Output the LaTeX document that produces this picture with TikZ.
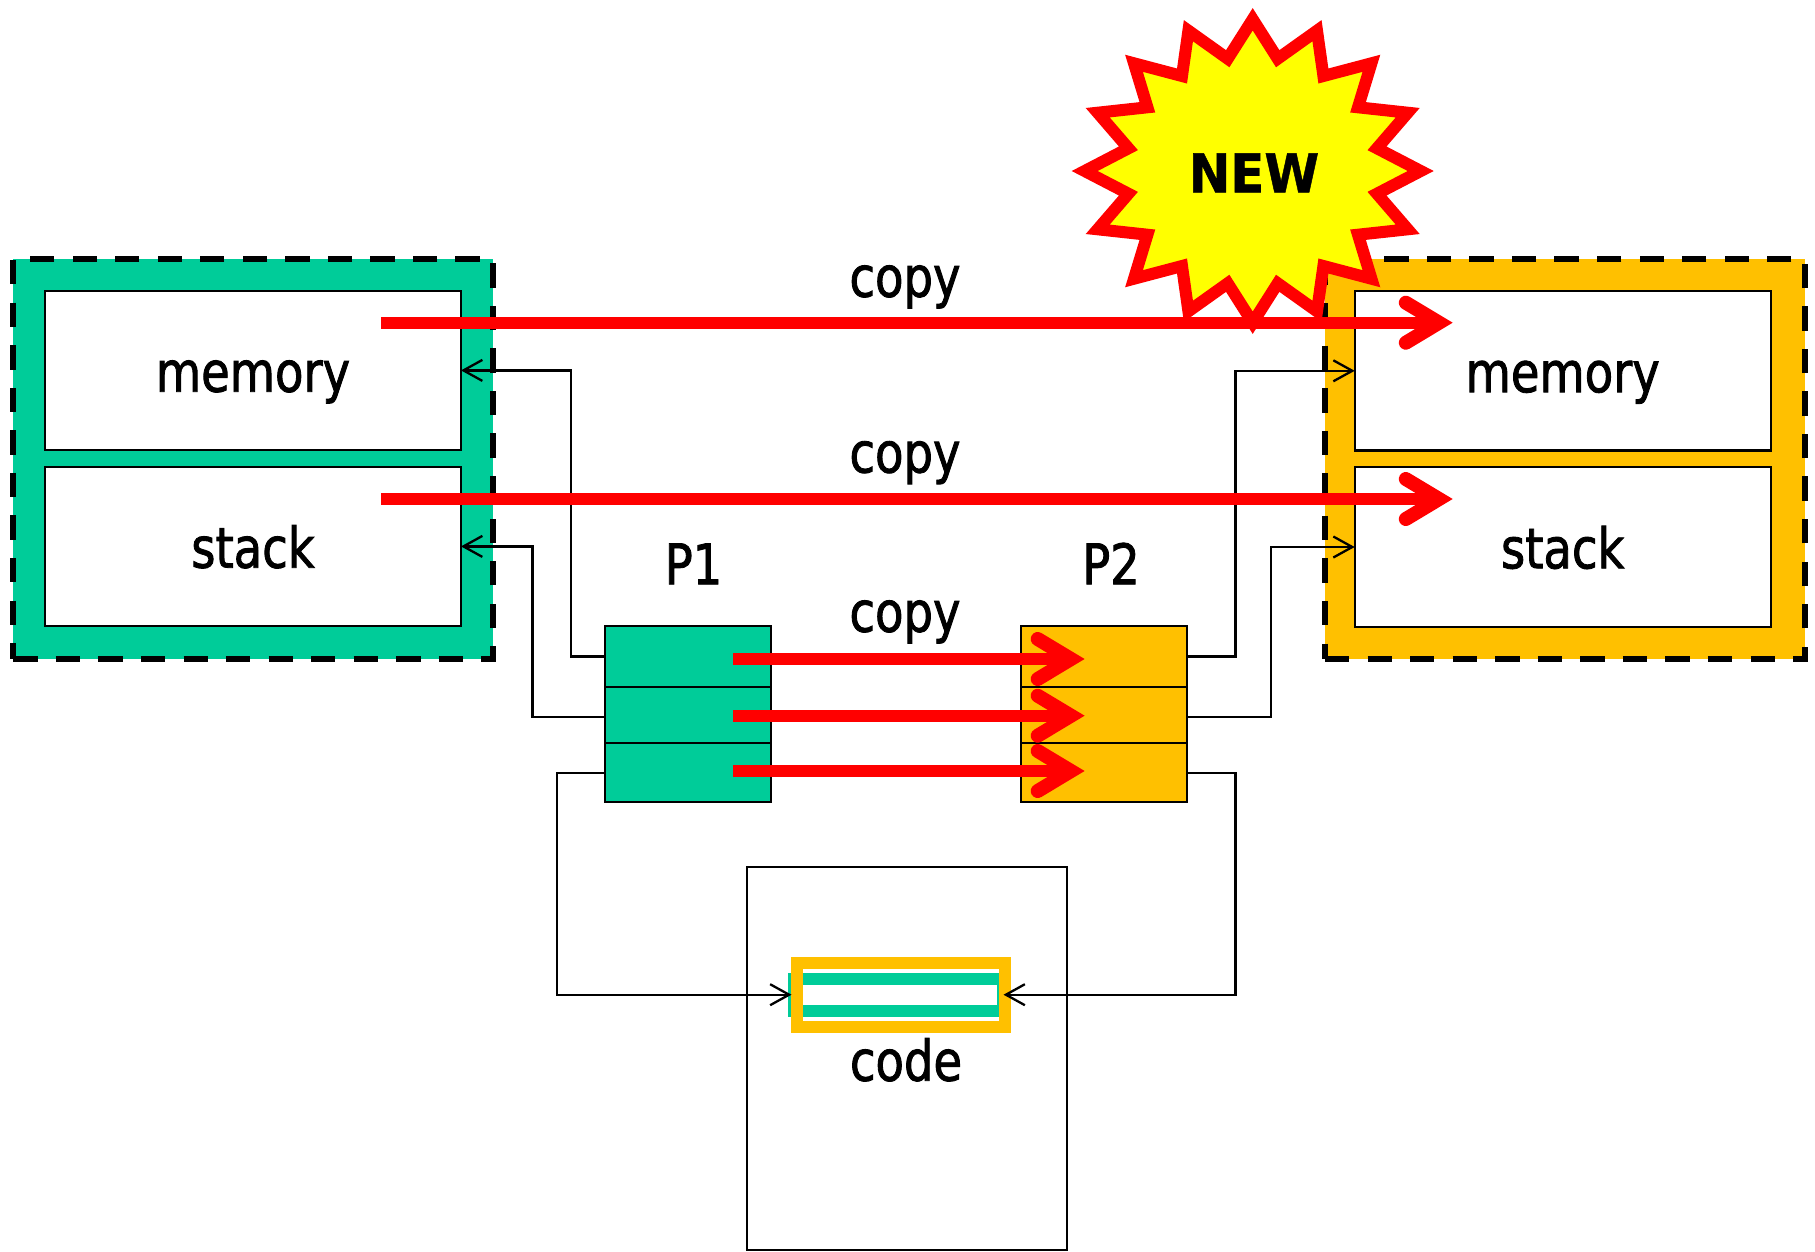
\documentclass[tikz,border=0pt]{standalone}
\usepackage{fontspec}
\setmainfont{DejaVu Sans}[FakeStretch=0.83,FakeBold=1.5]
\newfontfamily\burstfont{DejaVu Sans Bold}[FakeStretch=0.93,FakeBold=0.8]
\usetikzlibrary{arrows.meta}
\definecolor{grn}{HTML}{00CC99}
\definecolor{org}{HTML}{FFC000}
\definecolor{rd}{HTML}{FF0000}
\definecolor{yel}{HTML}{FFFF00}
\tikzset{
  x=1pt,y=-1pt,
  lbl/.style={inner sep=0pt,outer sep=0pt,font=\fontsize{56}{60}\selectfont,text height=42.6pt,text depth=0pt},
  freelbl/.style={inner sep=0pt,outer sep=0pt,anchor=base,font=\fontsize{56}{60}\selectfont},
  dashborder/.style={draw=black,line width=6pt,dash pattern=on 24.3pt off 18.25pt},
  inbox/.style={lbl,draw=black,line width=2.2pt,fill=white,minimum width=416pt,minimum height=159.4pt},
  row/.style={draw=black,line width=2.2pt,inner sep=0pt,outer sep=0pt,minimum width=166pt},
  conn/.style={draw=black,line width=2.3pt,-{Straight Barb[length=19pt,width=21pt,line width=2.3pt]}},
  bigarrow/.style={draw=rd,line width=12pt,-{Straight Barb[length=33.3pt,width=40pt,line width=14pt,line cap=round,line join=miter]}},
}
\begin{document}
\begin{tikzpicture}
\useasboundingbox (0,0) rectangle (1815,1251);
% left block
\fill[grn] (13.3,258.5) rectangle (493.3,658.5);
\node[inbox] (lmem) at (253,370.4) {memory};
\node[inbox] (lstk) at (253,546.4) {stack};
\draw[dashborder] (13.3,658.5) -- (493.3,658.5) -- (493.3,258.5) -- (13.3,258.5) -- cycle;
% right block
\fill[org] (1325,259) rectangle (1805,659);
\node[inbox] (rmem) at (1562.7,370.8) {memory};
\node[inbox] (rstk) at (1562.7,547) {stack};
\draw[dashborder] (1325,659) -- (1805,659) -- (1805,259) -- (1325,259) -- cycle;
% tables
\node[row,fill=grn,minimum height=60.7pt] (pa) at (688,656.4) {};
\node[row,fill=grn,minimum height=56pt] (pb) at (688,714.7) {};
\node[row,fill=grn,minimum height=59.6pt] (pc) at (688,772.5) {};
\node[row,fill=org,minimum height=60.7pt] (qa) at (1104,656.4) {};
\node[row,fill=org,minimum height=56pt] (qb) at (1104,714.7) {};
\node[row,fill=org,minimum height=59.6pt] (qc) at (1104,772.5) {};
\node[freelbl] (plabel) at (693.5,584.3) {P1};
\node[freelbl] (qlabel) at (1111,584.3) {P2};
% code
\node[draw=black,line width=2.2pt,inner sep=0pt,outer sep=0pt,minimum width=320pt,minimum height=383pt] (codebox) at (906.7,1058.5) {};
\fill[grn] (788.3,973) rectangle (999,1017);
\fill[white] (800,985) rectangle (997,1005);
\node[draw=org,line width=12pt,inner sep=0pt,outer sep=6pt,minimum width=208pt,minimum height=63.7pt] (slot) at (901,994.85) {};
\node[freelbl] (codelabel) at (906,1080.7) {code};
% connectors
\coordinate (v1) at (570.7,656.4);
\coordinate (v2) at (532.5,717);
\coordinate (v3) at (556.8,772.7);
\coordinate (w1) at (1235.5,656.4);
\coordinate (w2) at (1271,717);
\coordinate (w3) at (1235.5,772.7);
\coordinate (slotl) at (791.5,994.7);
\coordinate (slotr) at (1003.5,994.7);
\draw[conn] (pa.west) -- (v1) |- (lmem.east);
\draw[conn] (pb.west |- v2) -- (v2) |- (lstk.east);
\draw[conn] (pc.west |- v3) -- (v3) |- (slotl);
\draw[conn] (qa.east) -- (w1) |- (rmem.west);
\draw[conn] (qb.east |- w2) -- (w2) |- (rstk.west);
\draw[conn] (qc.east |- w3) -- (w3) |- (slotr);
% star
\draw[draw=rd,fill=yel,line width=12pt,miter limit=20,shift={(1252.7,171)}]
 (0,-151.7) -- (25,-112.3) -- (64.3,-140.3) -- (70.7,-95) -- (118.7,-107.7) -- (105.3,-63.7) -- (155,-58.3) -- (124.3,-22.7) -- (168,0)
 -- (124.3,22.7) -- (155,58.3) -- (105.3,63.7) -- (118.7,107.7) -- (70.7,95) -- (64.3,140.3) -- (25,112.3) -- (0,151.7)
 -- (-25,112.3) -- (-64.3,140.3) -- (-70.7,95) -- (-118.7,107.7) -- (-105.3,63.7) -- (-155,58.3) -- (-124.3,22.7) -- (-168,0)
 -- (-124.3,-22.7) -- (-155,-58.3) -- (-105.3,-63.7) -- (-118.7,-107.7) -- (-70.7,-95) -- (-64.3,-140.3) -- (-25,-112.3) -- cycle;
\node[inner sep=0pt,outer sep=0pt,anchor=base,font={\burstfont\fontsize{53.5}{60}\selectfont}] (newlabel) at (1254,192.3) {NEW};
% copy labels
\node[freelbl] (c1) at (905,296.7) {copy};
\node[freelbl] (c2) at (905,472.5) {copy};
\node[freelbl] (c3) at (905,631.7) {copy};
% red arrows
\coordinate (s1) at (381,322.7); \coordinate (e1) at (1452.7,322.7);
\coordinate (s2) at (381,499); \coordinate (e2) at (1452.7,499);
\coordinate (s3) at (733,659); \coordinate (e3) at (1084.6,659);
\coordinate (s4) at (733,715.7); \coordinate (e4) at (1084.6,715.7);
\coordinate (s5) at (733,771); \coordinate (e5) at (1084.6,771);
\draw[bigarrow] (s1) -- (e1);
\draw[bigarrow] (s2) -- (e2);
\draw[bigarrow] (s3) -- (e3);
\draw[bigarrow] (s4) -- (e4);
\draw[bigarrow] (s5) -- (e5);
\end{tikzpicture}
\end{document}
